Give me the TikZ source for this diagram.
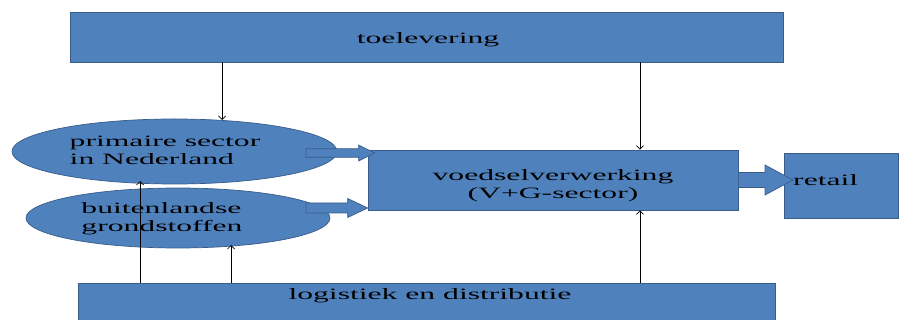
\documentclass[tikz,border=0pt]{standalone}
\usepackage{fontspec}
\setmainfont{Liberation Serif}
\usetikzlibrary{calc,positioning,arrows.meta,shapes.geometric}

\definecolor{vakblauw}{HTML}{4F81BD}
\definecolor{vakrand}{HTML}{385D8A}
\newcommand{\px}{0.03cm}
\newcommand{\breed}[1]{\scalebox{2}[1]{#1}}
% dikke blokpijl: begin, punt, halve schacht, halve kop, kop lengte
\newcommand{\blokpijl}[5]{%
\filldraw[dikpijl] ($(#1)+(0,-#3)$) -- ($(#2)+(-#5,-#3)$) -- ($(#2)+(-#5,-#4)$)
 -- (#2) -- ($(#2)+(-#5,#4)$) -- ($(#2)+(-#5,#3)$) -- ($(#1)+(0,#3)$) -- cycle;}

\tikzset{
vak/.style={draw=vakrand, fill=vakblauw, line width=0.6pt, inner sep=0pt},
ovaal/.style={vak, ellipse},
tekst/.style={inner sep=0pt, font=\fontsize{13.5}{15.6}\selectfont},
dunpijl/.style={line width=0.6pt, -{Straight Barb[length=3pt,width=6pt]}},
dikpijl/.style={draw=vakrand, fill=vakblauw, line width=0.6pt},
}

\begin{document}
\begin{tikzpicture}[x=\px, y=-\px]
\useasboundingbox (0,0) rectangle (900,320);

% blokken
\node[vak, minimum width=713*\px, minimum height=50*\px] (toel) at (426.5,37) {};
\node[tekst] (toeltekst) at (428,40) {\breed{toelevering}};

\node[ovaal, minimum width=325*\px, minimum height=65*\px] (prim) at (174.5,151.5) {};
\node[tekst, align=left] (primtekst) at (165,152) {\breed{\begin{tabular}{@{}l@{}}primaire sector\\in Nederland\end{tabular}}};

\node[ovaal, minimum width=304*\px, minimum height=60*\px] (buit) at (178,218) {};
\node[tekst] (buittekst) at (162,219) {\breed{\begin{tabular}{@{}l@{}}buitenlandse\\grondstoffen\end{tabular}}};

\node[vak, minimum width=370*\px, minimum height=60*\px] (voed) at (553,180) {};
\node[tekst] (voedtekst) at (553,186) {\breed{\begin{tabular}{@{}c@{}}voedselverwerking\\(V+G-sector)\end{tabular}}};

\node[vak, minimum width=114*\px, minimum height=65*\px] (retail) at (841,185.5) {};
\node[tekst, anchor=west] (retailtekst) at (793,180) {\breed{retail}};

\node[vak, minimum width=697*\px, minimum height=57*\px] (logi) at (426.5,311.5) {};
\node[tekst] (logitekst) at (430,296) {\breed{logistiek en distributie}};

% dunne pijlen
\coordinate (xa) at (222,0);
\coordinate (xb) at (640,0);
\coordinate (xc) at (140,0);
\coordinate (xd) at (231,0);
\draw[dunpijl] (toel.south -| xa) -- (222,120);
\draw[dunpijl] (toel.south -| xb) -- (voed.north -| xb);
\draw[dunpijl] (logi.north -| xc) -- (140,181);
\draw[dunpijl] (logi.north -| xd) -- (231,245);
\draw[dunpijl] (logi.north -| xb) -- (voed.south -| xb);

% blokpijlen
\coordinate (s1) at (306,153);
\coordinate (s2) at (306,208);
\coordinate (t1) at ($(s1 -| voed.west)+(7,0)$);
\coordinate (t2) at (s2 -| voed.west);
\blokpijl{s1}{t1}{4.3}{8}{16}
\blokpijl{s2}{t2}{5}{9.5}{20}
\coordinate (s3) at (voed.east |- 0,180);
\coordinate (t3) at (retailtekst.west |- 0,180);
\blokpijl{s3}{t3}{7.5}{15}{28}
\end{tikzpicture}
\end{document}
